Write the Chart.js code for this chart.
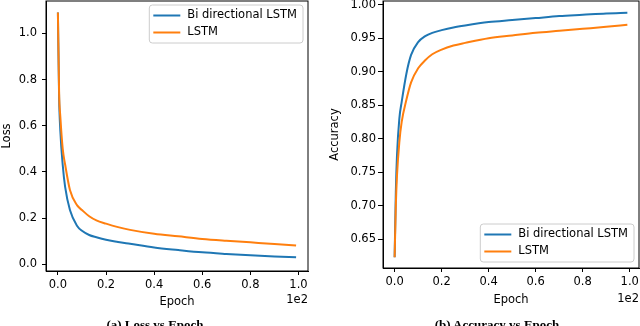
<!DOCTYPE html>
<html>
<head>
<meta charset="utf-8">
<script src="https://cdn.jsdelivr.net/npm/chart.js@4.4.1/dist/chart.umd.min.js"></script>
<style>
  html, body { margin: 0; padding: 0; background: #fff; overflow: hidden; }
  body { width: 640px; height: 326px; position: relative; }
  .plot { position: absolute; top: 0; width: 320px; height: 326px; }
  .caption { position: absolute; top: 318px; font: bold 13px/13px "Liberation Serif", serif; white-space: nowrap; transform: translateX(-50%); color: #000; }
</style>
</head>
<body>
<div class="plot" style="left:0"><canvas id="lossChart" width="320" height="326"></canvas></div>
<div class="plot" style="left:320px"><canvas id="accChart" width="320" height="326"></canvas></div>
<div class="caption" style="left:155px">(a) Loss vs Epoch</div>
<div class="caption" style="left:497px">(b) Accuracy vs Epoch</div>
<script>
// data
const seriesNames = ['Bi directional LSTM', 'LSTM'];

const lossEpochs = [0, 0.5, 1, 2, 3, 5, 8, 10, 13, 16, 20, 25, 30, 40, 50, 60, 70, 80, 90, 99];
const lossBi =     [1.09, 0.72, 0.58, 0.43, 0.335, 0.235, 0.166, 0.145, 0.127, 0.117, 0.106, 0.097, 0.089, 0.073, 0.062, 0.052, 0.045, 0.039, 0.034, 0.030];
const lossLstm =   [1.09, 0.74, 0.64, 0.50, 0.432, 0.322, 0.255, 0.235, 0.208, 0.190, 0.176, 0.161, 0.149, 0.132, 0.121, 0.110, 0.102, 0.095, 0.088, 0.081];

const accEpochs = [0, 0.5, 1, 2, 3, 5, 7, 10, 13, 16, 20, 25, 30, 40, 50, 60, 70, 80, 90, 99];
const accBi =     [0.623, 0.72, 0.775, 0.83, 0.855, 0.897, 0.925, 0.944, 0.953, 0.958, 0.962, 0.966, 0.969, 0.974, 0.977, 0.980, 0.983, 0.985, 0.987, 0.988];
const accLstm =   [0.623, 0.70, 0.745, 0.795, 0.825, 0.858, 0.884, 0.905, 0.917, 0.926, 0.933, 0.939, 0.943, 0.950, 0.954, 0.958, 0.961, 0.964, 0.967, 0.970];

// tick values and labels (x is shown in units of 1e2)
const epochTicks = [0, 20, 40, 60, 80, 100];
const epochTickLabels = ['0.0', '0.2', '0.4', '0.6', '0.8', '1.0'];
const lossTicks = [0, 0.2, 0.4, 0.6, 0.8, 1.0];
const lossTickLabels = ['0.0', '0.2', '0.4', '0.6', '0.8', '1.0'];
const accTicks = [0.65, 0.70, 0.75, 0.80, 0.85, 0.90, 0.95, 1.00];
const accTickLabels = ['0.65', '0.70', '0.75', '0.80', '0.85', '0.90', '0.95', '1.00'];

Chart.defaults.font.family = '"DejaVu Sans", sans-serif';
Chart.defaults.font.size = 11.5;
Chart.defaults.color = '#000';

const BLUE = '#1f77b4';
const ORANGE = '#ff7f0e';

const toPoints = (xs, ys) => xs.map((x, i) => ({ x, y: ys[i] }));

// axes frame, "1e2" offset text and a matplotlib-like legend box
const framePlugin = {
    id: 'frame',
    afterDraw(chart, args, opts) {
        const { ctx, chartArea: a } = chart;
        ctx.save();
        ctx.strokeStyle = '#000';
        ctx.lineWidth = 1;
        ctx.strokeRect(a.left, a.top, a.right - a.left, a.bottom - a.top);

        ctx.font = '11.5px "DejaVu Sans"';
        ctx.fillStyle = '#000';
        ctx.textAlign = 'right';
        ctx.textBaseline = 'middle';
        ctx.fillText('1e2', a.right, opts.offsetY);

        const sets = chart.data.datasets;
        const textW = Math.max(...sets.map(d => ctx.measureText(d.label).width));
        const w = 4 + 27 + 7 + textW + 6;
        const h = 38;
        const x = a.right - 5 - w;
        const y = opts.legendAt === 'top' ? a.top + 4 : a.bottom - 6 - h;
        ctx.beginPath();
        ctx.roundRect(x, y, w, h, 3);
        ctx.fillStyle = 'rgba(255,255,255,0.8)';
        ctx.fill();
        ctx.strokeStyle = '#cccccc';
        ctx.stroke();
        sets.forEach((d, i) => {
            const cy = y + 10.5 + i * 17;
            ctx.beginPath();
            ctx.moveTo(x + 4, cy);
            ctx.lineTo(x + 31, cy);
            ctx.strokeStyle = d.borderColor;
            ctx.lineWidth = 2;
            ctx.stroke();
            ctx.fillStyle = '#000';
            ctx.textAlign = 'left';
            ctx.fillText(d.label, x + 38, cy);
        });
        ctx.restore();
    }
};

const makeChart = (id, cfg) => new Chart(document.getElementById(id), {
    type: 'line',
    data: {
        datasets: [
            { label: seriesNames[0], data: toPoints(cfg.xs, cfg.bi), borderColor: BLUE, order: 1 },
            { label: seriesNames[1], data: toPoints(cfg.xs, cfg.lstm), borderColor: ORANGE, order: 0 }
        ]
    },
    options: {
        responsive: false,
        animation: false,
        layout: { padding: cfg.padding },
        elements: {
            line: { borderWidth: 2, cubicInterpolationMode: 'monotone', fill: false },
            point: { radius: 0 }
        },
        plugins: {
            legend: { display: false },
            tooltip: { enabled: false },
            frame: { legendAt: cfg.legendAt, offsetY: cfg.offsetY }
        },
        scales: {
            x: {
                type: 'linear',
                min: -4.95,
                max: 103.95,
                afterFit: s => { s.height = cfg.xHeight; s.paddingLeft = 0; s.paddingRight = 0; },
                afterBuildTicks: s => { s.ticks = epochTicks.map(v => ({ value: v })); },
                ticks: { callback: (v, i) => epochTickLabels[i], maxRotation: 0, autoSkip: false, padding: cfg.xPad },
                grid: { drawOnChartArea: false, drawTicks: true, tickLength: 4, tickColor: '#000' },
                border: { display: true, color: '#000' },
                title: { display: true, text: 'Epoch', padding: { top: 0, bottom: cfg.xTitlePad } }
            },
            y: {
                min: cfg.yMin,
                max: cfg.yMax,
                afterFit: s => { s.width = cfg.yWidth; s.paddingTop = 0; s.paddingBottom = 0; },
                afterBuildTicks: s => { s.ticks = cfg.yTicks.map(v => ({ value: v })); },
                ticks: { callback: (v, i) => cfg.yLabels[i], autoSkip: false, padding: cfg.yPad },
                grid: { drawOnChartArea: false, drawTicks: true, tickLength: cfg.yTick, tickColor: '#000' },
                border: { display: true, color: '#000' },
                title: { display: true, text: cfg.yTitle, padding: { top: cfg.yTitlePad, bottom: 0 } }
            }
        }
    },
    plugins: [framePlugin]
});

makeChart('lossChart', {
    xs: lossEpochs, bi: lossBi, lstm: lossLstm,
    yMin: -0.029, yMax: 1.14, yTicks: lossTicks, yLabels: lossTickLabels, yTitle: 'Loss',
    padding: { top: 1, right: 12, left: 0, bottom: 0 },
    xHeight: 55, yWidth: 46, xPad: 3, yPad: 5, yTick: 4,
    xTitlePad: 17, yTitlePad: 0, legendAt: 'top', offsetY: 300
});

makeChart('accChart', {
    xs: accEpochs, bi: accBi, lstm: accLstm,
    yMin: 0.607, yMax: 1.0055, yTicks: accTicks, yLabels: accTickLabels, yTitle: 'Accuracy',
    padding: { top: 1, right: 1, left: 0, bottom: 0 },
    xHeight: 58, yWidth: 63, xPad: 3, yPad: 2, yTick: 5,
    xTitlePad: 19, yTitlePad: 8, legendAt: 'bottom', offsetY: 299
});
</script>
</body>
</html>
